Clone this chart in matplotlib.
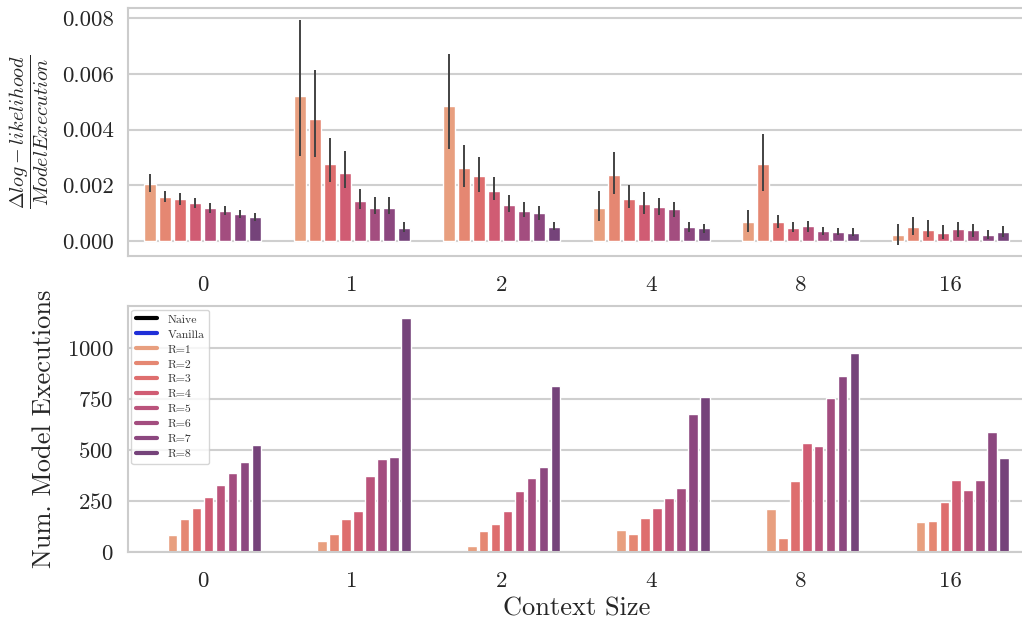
import numpy as np
import matplotlib
matplotlib.use("Agg")
import matplotlib.pyplot as plt
import seaborn as sns
from matplotlib.lines import Line2D

# context sizes on the x axis
contexts = ["0", "1", "2", "4", "8", "16"]
r_labels = ["R=1", "R=2", "R=3", "R=4", "R=5", "R=6", "R=7", "R=8"]

# top panel: delta log-likelihood per model execution (rows = context size, cols = R)
ratio_mean = [
    [0.00205, 0.00159, 0.00150, 0.00135, 0.00117, 0.00109, 0.00097, 0.00085],
    [0.00522, 0.00439, 0.00278, 0.00243, 0.00143, 0.00120, 0.00120, 0.00046],
    [0.00485, 0.00263, 0.00233, 0.00181, 0.00129, 0.00109, 0.00100, 0.00051],
    [0.00120, 0.00236, 0.00152, 0.00134, 0.00122, 0.00113, 0.00050, 0.00047],
    [0.00068, 0.00275, 0.00068, 0.00048, 0.00053, 0.00036, 0.00032, 0.00030],
    [0.00020, 0.00050, 0.00041, 0.00030, 0.00042, 0.00041, 0.00023, 0.00032],
]
ratio_lo = [
    [0.00177, 0.00141, 0.00129, 0.00117, 0.00102, 0.00095, 0.00084, 0.00072],
    [0.00307, 0.00303, 0.00211, 0.00190, 0.00113, 0.00098, 0.00098, 0.00032],
    [0.00329, 0.00195, 0.00177, 0.00147, 0.00105, 0.00085, 0.00075, 0.00040],
    [0.00072, 0.00168, 0.00120, 0.00098, 0.00092, 0.00086, 0.00032, 0.00028],
    [0.00032, 0.00180, 0.00045, 0.00032, 0.00032, 0.00020, 0.00020, 0.00016],
    [-0.00015, 0.00020, 0.00014, 0.00008, 0.00014, 0.00014, 0.00008, 0.00014],
]
ratio_hi = [
    [0.00240, 0.00181, 0.00171, 0.00153, 0.00135, 0.00125, 0.00112, 0.00100],
    [0.00795, 0.00615, 0.00371, 0.00322, 0.00187, 0.00157, 0.00157, 0.00068],
    [0.00670, 0.00345, 0.00303, 0.00231, 0.00165, 0.00141, 0.00127, 0.00067],
    [0.00178, 0.00320, 0.00200, 0.00176, 0.00154, 0.00140, 0.00068, 0.00062],
    [0.00110, 0.00383, 0.00095, 0.00068, 0.00072, 0.00050, 0.00048, 0.00047],
    [0.00060, 0.00086, 0.00074, 0.00056, 0.00068, 0.00062, 0.00040, 0.00055],
]

# bottom panel: number of model executions
naive_exec = [0, 0, 0, 0, 0, 0]
vanilla_exec = [0, 0, 0, 0, 0, 0]
r_exec = [
    [82, 161, 218, 271, 328, 386, 441, 523],
    [54, 86, 161, 202, 372, 455, 466, 1145],
    [30, 102, 136, 202, 300, 362, 417, 813],
    [110, 87, 167, 218, 267, 315, 676, 759],
    [211, 69, 349, 533, 520, 754, 864, 975],
    [145, 154, 243, 354, 305, 354, 590, 459],
]

sns.set_style("whitegrid")
plt.rcParams["font.family"] = "serif"
plt.rcParams["font.serif"] = ["cmr10", "DejaVu Serif"]
plt.rcParams["mathtext.fontset"] = "cm"
plt.rcParams["axes.formatter.use_mathtext"] = True
plt.rcParams["axes.unicode_minus"] = False

# flare palette, a bit washed out like the scanned figure
pal = [tuple(0.86 * np.array(c) + 0.14 * 0.86) for c in sns.color_palette("flare", 8)]
fs = 16.5

fig = plt.figure(figsize=(10.22, 6.28), dpi=100)
ax1 = fig.add_axes([0.125, 0.5924, 0.878, 0.3944])
ax2 = fig.add_axes([0.125, 0.1210, 0.878, 0.3917])

x = np.arange(len(contexts))
mean = np.array(ratio_mean)
lo = np.array(ratio_lo)
hi = np.array(ratio_hi)
for j in range(len(r_labels)):
    xs = x + (j - 3.5) * 0.1
    ax1.bar(xs, mean[:, j], width=0.08, color=pal[j], zorder=2)
    ax1.errorbar(xs, mean[:, j], yerr=[mean[:, j] - lo[:, j], hi[:, j] - mean[:, j]],
                 fmt="none", ecolor="#424242", elinewidth=1.4, zorder=3)

ax1.set_ylim(-0.00054, 0.00836)
ax1.set_yticks([0, 0.002, 0.004, 0.006, 0.008])
ax1.set_yticklabels(["0.000", "0.002", "0.004", "0.006", "0.008"])
ax1.set_ylabel(r"$\dfrac{\Delta log-likelihood}{Model Execution}$", fontsize=14.5,
               color="#262626")
ax1.yaxis.set_label_coords(-0.086, 0.5)

execs = np.column_stack([naive_exec, vanilla_exec, np.array(r_exec)])
colors = ["black", "#1f2fd8"] + list(pal)
names = ["Naive", "Vanilla"] + r_labels
for j in range(execs.shape[1]):
    xs = x + (j - 4.5) * 0.08
    ax2.bar(xs, execs[:, j], width=0.064, color=colors[j], zorder=2)

ax2.set_ylim(0, 1206)
ax2.set_yticks([0, 250, 500, 750, 1000])
ax2.set_ylabel("Num. Model Executions", fontsize=19, color="#262626")
ax2.yaxis.set_label_coords(-0.080, 0.5)
ax2.set_xlabel("Context Size", fontsize=19, color="#262626")

handles = [Line2D([0], [0], color=c, lw=3) for c in colors]
leg = ax2.legend(handles, names, loc="upper left", fontsize=8.5, handlelength=1.8,
                 handletextpad=0.9, borderaxespad=0.3, labelspacing=0.4,
                 frameon=True, fancybox=True)
leg.get_frame().set_edgecolor("#cccccc")
for t in leg.get_texts():
    t.set_color("#333333")

for ax in (ax1, ax2):
    ax.set_xlim(-0.5, 5.5)
    ax.set_xticks(x)
    ax.set_xticklabels(contexts)
    ax.grid(axis="x", visible=False)
    ax.grid(axis="y", color="#cfcfcf", linewidth=1.5)
    ax.set_axisbelow(True)
    ax.tick_params(axis="both", labelsize=fs, length=0, colors="#262626")
    ax.tick_params(axis="x", pad=14)
    ax.tick_params(axis="y", pad=10)
    for s in ax.spines.values():
        s.set_color("#cccccc")
        s.set_linewidth(1.5)

fig.savefig("out.png", dpi=100)
